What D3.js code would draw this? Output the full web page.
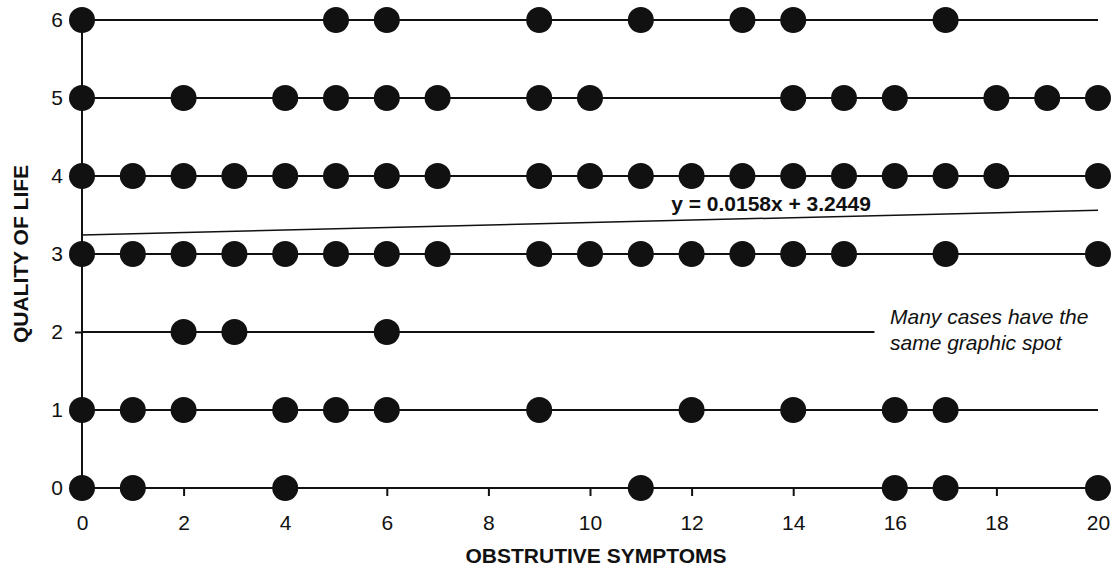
<!DOCTYPE html>
<html>
<head>
<meta charset="utf-8">
<script src="https://cdn.jsdelivr.net/npm/d3@7"></script>
<style>
  body { margin: 0; background: #fff; }
  text { font-family: Arial, "Liberation Sans", sans-serif; fill: #111; }
</style>
</head>
<body>
<script>
// quality of life level -> obstructive symptom scores with at least one case
let levels = [6, 5, 4, 3, 2, 1, 0]
let xsAt6 = [0, 5, 6, 9, 11, 13, 14, 17]
let xsAt5 = [0, 2, 4, 5, 6, 7, 9, 10, 14, 15, 16, 18, 19, 20]
let xsAt4 = [0, 1, 2, 3, 4, 5, 6, 7, 9, 10, 11, 12, 13, 14, 15, 16, 17, 18, 20]
let xsAt3 = [0, 1, 2, 3, 4, 5, 6, 7, 9, 10, 11, 12, 13, 14, 15, 17, 20]
let xsAt2 = [2, 3, 6]
let xsAt1 = [0, 1, 2, 4, 5, 6, 9, 12, 14, 16, 17]
let xsAt0 = [0, 1, 4, 11, 16, 17, 20]
let xTicks = [0, 2, 4, 6, 8, 10, 12, 14, 16, 18, 20]
let yTicks = [0, 1, 2, 3, 4, 5, 6]
let slope = 0.0158, intercept = 3.2449
let level2LineEnd = 15.6  // the y=2 guide line stops short in the original

let byLevel = {6: xsAt6, 5: xsAt5, 4: xsAt4, 3: xsAt3, 2: xsAt2, 1: xsAt1, 0: xsAt0}
let points = []
levels.forEach(lv => byLevel[lv].forEach(x => points.push({x: x, y: lv})))

let svg = d3.select('body').append('svg')
  .attr('width', 1114).attr('height', 568)

let x = d3.scaleLinear().domain([0, 20]).range([82, 1098])
let y = d3.scaleLinear().domain([0, 6]).range([488, 20])

// horizontal guide lines at each level
svg.selectAll('.hline').data(levels).enter()
  .append('line')
  .attr('class', 'hline')
  .attr('x1', x(0))
  .attr('x2', d => d == 2 ? x(level2LineEnd) : x(20))
  .attr('y1', d => y(d)).attr('y2', d => y(d))
  .attr('stroke', '#111').attr('stroke-width', 2)

// x axis (ticks down, no domain path since the level 0 line is the axis)
let xAxis = svg.append('g')
  .attr('transform', `translate(0,${y(0)})`)
  .call(d3.axisBottom(x).tickValues(xTicks).tickSize(8).tickPadding(19).tickFormat(d3.format('d')))
xAxis.select('.domain').remove()
xAxis.selectAll('line').attr('stroke', '#111').attr('stroke-width', 2)
xAxis.selectAll('text').attr('font-size', 21).attr('fill', '#111')
  .attr('font-family', 'Arial, "Liberation Sans", sans-serif')

// y axis
let yAxis = svg.append('g')
  .attr('transform', `translate(${x(0)},0)`)
  .call(d3.axisLeft(y).tickValues(yTicks).tickSize(7).tickPadding(12).tickFormat(d3.format('d')))
yAxis.select('.domain').attr('stroke', '#111').attr('stroke-width', 2)
  .attr('d', `M0,${y(6)}V${y(0)}`)
yAxis.selectAll('line').attr('stroke', '#111').attr('stroke-width', 2)
yAxis.selectAll('text').attr('font-size', 21).attr('fill', '#111')
  .attr('font-family', 'Arial, "Liberation Sans", sans-serif')

// trend line
svg.append('line')
  .attr('x1', x(0)).attr('y1', y(intercept))
  .attr('x2', x(20)).attr('y2', y(slope * 20 + intercept))
  .attr('stroke', '#111').attr('stroke-width', 1.5)

// dots
svg.selectAll('circle').data(points).enter()
  .append('circle')
  .attr('cx', d => x(d.x))
  .attr('cy', d => y(d.y))
  .attr('r', 13)
  .attr('fill', '#111')

// equation label
svg.append('text')
  .attr('x', 771).attr('y', 211)
  .attr('text-anchor', 'middle')
  .attr('font-size', 21).attr('font-weight', 'bold')
  .text(`y = ${slope}x + ${intercept}`)

// annotation
let note = svg.append('text')
  .attr('x', 890).attr('y', 324)
  .attr('font-size', 21).attr('font-style', 'italic')
note.append('tspan').attr('x', 890).text('Many cases have the')
note.append('tspan').attr('x', 890).attr('dy', 26).text('same graphic spot')

// axis titles
svg.append('text')
  .attr('x', 596).attr('y', 563)
  .attr('text-anchor', 'middle')
  .attr('font-size', 21).attr('font-weight', 'bold')
  .text('OBSTRUTIVE SYMPTOMS')

svg.append('text')
  .attr('transform', `translate(28,${254}) rotate(-90)`)
  .attr('text-anchor', 'middle')
  .attr('font-size', 21).attr('font-weight', 'bold')
  .text('QUALITY OF LIFE')
</script>
</body>
</html>
